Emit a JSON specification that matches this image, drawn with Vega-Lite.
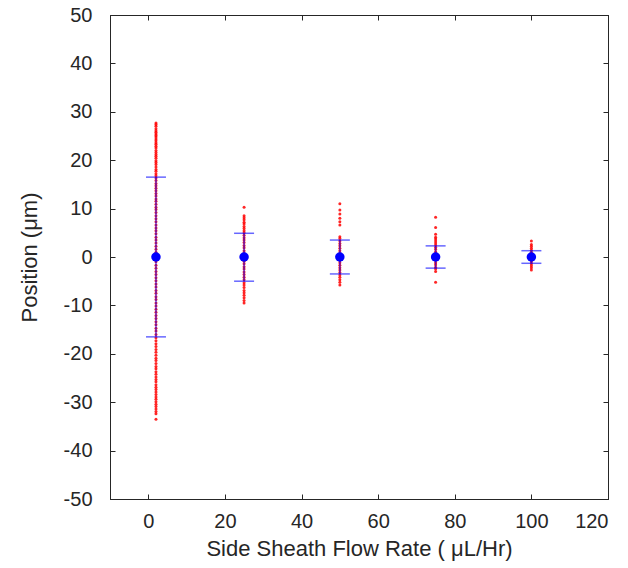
{
  "$schema": "https://vega.github.io/schema/vega-lite/v6.json",
  "autosize": "none",
  "width": 498,
  "height": 484,
  "padding": {"left": 110, "top": 15, "right": 20, "bottom": 69},
  "background": "white",
  "config": {
    "font": "Liberation Sans",
    "view": {"stroke": "#262626", "strokeWidth": 1},
    "axis": {"grid": false, "domainColor": "#262626", "tickColor": "#262626", "labelColor": "#262626", "titleColor": "#262626", "labelFont": "Liberation Sans", "titleFont": "Liberation Sans", "labelFontSize": 20, "titleFontSize": 22, "titleFontWeight": "normal", "tickSize": -5}
  },
  "datasets": {
    "pts": [
      {"x": 2, "y": 27.7}, {"x": 2, "y": 27.4}, {"x": 2, "y": 27.0}, {"x": 2, "y": 26.5}, {"x": 2, "y": 26.1}, {"x": 2, "y": 25.8}, {"x": 2, "y": 25.4}, {"x": 2, "y": 25.1}, {"x": 2, "y": 24.8}, {"x": 2, "y": 24.4}, {"x": 2, "y": 24.0}, {"x": 2, "y": 23.6}, {"x": 2, "y": 23.3}, {"x": 2, "y": 22.9}, {"x": 2, "y": 22.5}, {"x": 2, "y": 22.0}, {"x": 2, "y": 21.6}, {"x": 2, "y": 21.2}, {"x": 2, "y": 20.8}, {"x": 2, "y": 20.4}, {"x": 2, "y": 19.9}, {"x": 2, "y": 19.5}, {"x": 2, "y": 19.1}, {"x": 2, "y": 18.6}, {"x": 2, "y": 18.1}, {"x": 2, "y": 17.7}, {"x": 2, "y": 17.2}, {"x": 2, "y": 16.8}, {"x": 2, "y": 16.3}, {"x": 2, "y": 15.8}, {"x": 2, "y": 15.2}, {"x": 2, "y": 14.7}, {"x": 2, "y": 14.2}, {"x": 2, "y": 13.7}, {"x": 2, "y": 13.1}, {"x": 2, "y": 12.6}, {"x": 2, "y": 12.0}, {"x": 2, "y": 11.5}, {"x": 2, "y": 10.9}, {"x": 2, "y": 10.3}, {"x": 2, "y": 9.8}, {"x": 2, "y": 9.2}, {"x": 2, "y": 8.5}, {"x": 2, "y": 7.9}, {"x": 2, "y": 7.3}, {"x": 2, "y": 6.6}, {"x": 2, "y": 6.0}, {"x": 2, "y": 5.4}, {"x": 2, "y": 4.8}, {"x": 2, "y": 4.1}, {"x": 2, "y": 3.5}, {"x": 2, "y": 2.9}, {"x": 2, "y": 2.2}, {"x": 2, "y": 1.6}, {"x": 2, "y": 1.0}, {"x": 2, "y": 0.3}, {"x": 2, "y": -0.4}, {"x": 2, "y": -1.0}, {"x": 2, "y": -1.7}, {"x": 2, "y": -2.3}, {"x": 2, "y": -3.0}, {"x": 2, "y": -3.6}, {"x": 2, "y": -4.3}, {"x": 2, "y": -4.9}, {"x": 2, "y": -5.6}, {"x": 2, "y": -6.2}, {"x": 2, "y": -6.9}, {"x": 2, "y": -7.5}, {"x": 2, "y": -8.2}, {"x": 2, "y": -8.8}, {"x": 2, "y": -9.5}, {"x": 2, "y": -10.1}, {"x": 2, "y": -10.8}, {"x": 2, "y": -11.4}, {"x": 2, "y": -12.1}, {"x": 2, "y": -12.7}, {"x": 2, "y": -13.4}, {"x": 2, "y": -14.0}, {"x": 2, "y": -14.7}, {"x": 2, "y": -15.3}, {"x": 2, "y": -16.0}, {"x": 2, "y": -16.7}, {"x": 2, "y": -17.3}, {"x": 2, "y": -17.9}, {"x": 2, "y": -18.5}, {"x": 2, "y": -19.1}, {"x": 2, "y": -19.7}, {"x": 2, "y": -20.3}, {"x": 2, "y": -20.9}, {"x": 2, "y": -21.4}, {"x": 2, "y": -22.0}, {"x": 2, "y": -22.6}, {"x": 2, "y": -23.1}, {"x": 2, "y": -23.7}, {"x": 2, "y": -24.2}, {"x": 2, "y": -24.8}, {"x": 2, "y": -25.3}, {"x": 2, "y": -25.8}, {"x": 2, "y": -26.4}, {"x": 2, "y": -26.9}, {"x": 2, "y": -27.4}, {"x": 2, "y": -27.9}, {"x": 2, "y": -28.4}, {"x": 2, "y": -28.9}, {"x": 2, "y": -29.4}, {"x": 2, "y": -29.9}, {"x": 2, "y": -30.4}, {"x": 2, "y": -30.9}, {"x": 2, "y": -31.4}, {"x": 2, "y": -31.9}, {"x": 2, "y": -32.4}, {"x": 2, "y": -33.5},
      {"x": 25, "y": 10.3}, {"x": 25, "y": 8.5}, {"x": 25, "y": 8.1}, {"x": 25, "y": 7.7}, {"x": 25, "y": 7.2}, {"x": 25, "y": 6.8}, {"x": 25, "y": 6.3}, {"x": 25, "y": 5.9}, {"x": 25, "y": 5.4}, {"x": 25, "y": 5.0}, {"x": 25, "y": 4.5}, {"x": 25, "y": 4.0}, {"x": 25, "y": 3.5}, {"x": 25, "y": 3.0}, {"x": 25, "y": 2.4}, {"x": 25, "y": 1.9}, {"x": 25, "y": 1.3}, {"x": 25, "y": 0.8}, {"x": 25, "y": 0.2}, {"x": 25, "y": -0.3}, {"x": 25, "y": -0.9}, {"x": 25, "y": -1.4}, {"x": 25, "y": -2.0}, {"x": 25, "y": -2.5}, {"x": 25, "y": -3.1}, {"x": 25, "y": -3.6}, {"x": 25, "y": -4.2}, {"x": 25, "y": -4.7}, {"x": 25, "y": -5.3}, {"x": 25, "y": -5.8}, {"x": 25, "y": -6.3}, {"x": 25, "y": -6.9}, {"x": 25, "y": -7.4}, {"x": 25, "y": -7.9}, {"x": 25, "y": -8.4}, {"x": 25, "y": -9.0}, {"x": 25, "y": -9.5},
      {"x": 50, "y": 11.0}, {"x": 50, "y": 9.7}, {"x": 50, "y": 8.9}, {"x": 50, "y": 8.0}, {"x": 50, "y": 7.3}, {"x": 50, "y": 6.6}, {"x": 50, "y": 4.2}, {"x": 50, "y": 3.8}, {"x": 50, "y": 3.3}, {"x": 50, "y": 2.8}, {"x": 50, "y": 2.3}, {"x": 50, "y": 1.8}, {"x": 50, "y": 1.3}, {"x": 50, "y": 0.8}, {"x": 50, "y": 0.3}, {"x": 50, "y": -0.2}, {"x": 50, "y": -0.7}, {"x": 50, "y": -1.2}, {"x": 50, "y": -1.7}, {"x": 50, "y": -2.2}, {"x": 50, "y": -2.7}, {"x": 50, "y": -3.2}, {"x": 50, "y": -3.7}, {"x": 50, "y": -4.2}, {"x": 50, "y": -4.7}, {"x": 50, "y": -5.2}, {"x": 50, "y": -5.8},
      {"x": 75, "y": 8.2}, {"x": 75, "y": 6.1}, {"x": 75, "y": 4.7}, {"x": 75, "y": 4.1}, {"x": 75, "y": 3.7}, {"x": 75, "y": 3.3}, {"x": 75, "y": 2.9}, {"x": 75, "y": 2.5}, {"x": 75, "y": 2.0}, {"x": 75, "y": 1.6}, {"x": 75, "y": 1.1}, {"x": 75, "y": 0.7}, {"x": 75, "y": 0.2}, {"x": 75, "y": -0.3}, {"x": 75, "y": -0.7}, {"x": 75, "y": -1.2}, {"x": 75, "y": -1.6}, {"x": 75, "y": -2.1}, {"x": 75, "y": -2.5}, {"x": 75, "y": -3.0}, {"x": 75, "y": -5.2},
      {"x": 100, "y": 3.3}, {"x": 100, "y": 2.6}, {"x": 100, "y": 2.2}, {"x": 100, "y": 1.8}, {"x": 100, "y": 1.4}, {"x": 100, "y": 1.0}, {"x": 100, "y": 0.6}, {"x": 100, "y": 0.2}, {"x": 100, "y": -0.2}, {"x": 100, "y": -0.6}, {"x": 100, "y": -1.0}, {"x": 100, "y": -1.4}, {"x": 100, "y": -1.8}, {"x": 100, "y": -2.2}, {"x": 100, "y": -2.7}
    ],
    "summary": [
      {"x": 2, "mean": 0, "lower": -16.5, "upper": 16.5},
      {"x": 25, "mean": 0, "lower": -5.0, "upper": 4.9},
      {"x": 50, "mean": 0, "lower": -3.5, "upper": 3.5},
      {"x": 75, "mean": 0, "lower": -2.3, "upper": 2.3},
      {"x": 100, "mean": 0, "lower": -1.3, "upper": 1.3}
    ]
  },
  "resolve": {"axis": {"x": "independent", "y": "independent"}},
  "layer": [
    {
      "layer": [
        {
          "data": {"name": "pts"},
          "mark": {"type": "circle", "color": "#ff0000", "size": 9, "opacity": 0.85},
          "encoding": {
            "x": {"field": "x", "type": "quantitative", "scale": {"domain": [-10, 120], "nice": false, "zero": false},
                  "axis": {"orient": "bottom", "values": [0, 20, 40, 60, 80, 100, 120], "title": "Side Sheath Flow Rate ( μL/Hr)", "labelPadding": 17, "titlePadding": 7}},
            "y": {"field": "y", "type": "quantitative", "scale": {"domain": [-50, 50], "nice": false, "zero": false},
                  "axis": {"orient": "left", "values": [-50, -40, -30, -20, -10, 0, 10, 20, 30, 40, 50], "labelExpr": "replace(datum.label, '−', '-')", "title": "Position (μm)", "labelPadding": 23, "titlePadding": 22}}
          }
        },
        {
          "data": {"name": "summary"},
          "mark": {"type": "rule", "color": "#0000ff", "strokeWidth": 1.5, "opacity": 0.6},
          "encoding": {
            "x": {"field": "x", "type": "quantitative"},
            "y": {"field": "lower", "type": "quantitative"},
            "y2": {"field": "upper"}
          }
        },
        {
          "data": {"name": "summary"},
          "mark": {"type": "tick", "orient": "horizontal", "color": "#0000ff", "size": 20, "thickness": 1.5, "opacity": 0.6},
          "encoding": {
            "x": {"field": "x", "type": "quantitative"},
            "y": {"field": "upper", "type": "quantitative"}
          }
        },
        {
          "data": {"name": "summary"},
          "mark": {"type": "tick", "orient": "horizontal", "color": "#0000ff", "size": 20, "thickness": 1.5, "opacity": 0.6},
          "encoding": {
            "x": {"field": "x", "type": "quantitative"},
            "y": {"field": "lower", "type": "quantitative"}
          }
        },
        {
          "data": {"name": "summary"},
          "mark": {"type": "circle", "color": "#0000ff", "size": 90, "opacity": 1},
          "encoding": {
            "x": {"field": "x", "type": "quantitative"},
            "y": {"field": "mean", "type": "quantitative"}
          }
        }
      ]
    },
    {
      "data": {"name": "summary"},
      "mark": {"type": "point", "opacity": 0},
      "encoding": {
        "x": {"field": "x", "type": "quantitative", "scale": {"domain": [-10, 120], "nice": false, "zero": false},
              "axis": {"orient": "top", "values": [0, 20, 40, 60, 80, 100, 120], "labels": false, "title": null}},
        "y": {"field": "mean", "type": "quantitative", "scale": {"domain": [-50, 50], "nice": false, "zero": false},
              "axis": {"orient": "right", "values": [-50, -40, -30, -20, -10, 0, 10, 20, 30, 40, 50], "labels": false, "title": null}}
      }
    }
  ]
}
